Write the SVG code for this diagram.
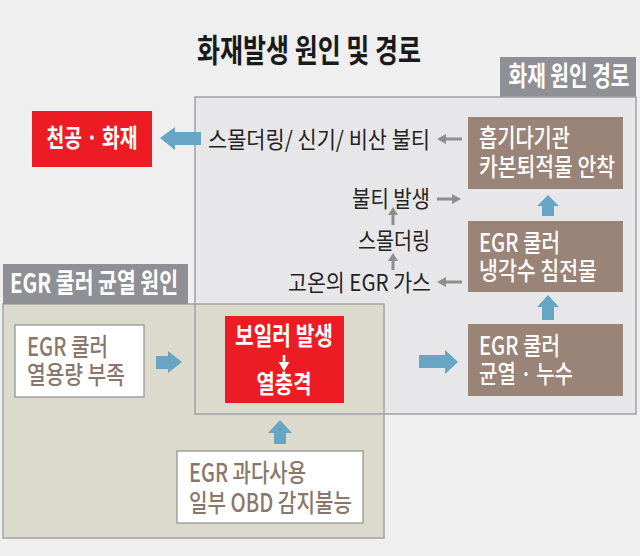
<svg xmlns="http://www.w3.org/2000/svg" width="640" height="556" viewBox="0 0 640 556">
<defs>
<style>
text{font-family:"Noto Sans CJK KR","Noto Sans",sans-serif;}
.title{font-size:32px;font-weight:bold;fill:#1a1a1a;}
.tab{font-size:27px;font-weight:bold;fill:#ffffff;}
.lbl{font-size:23px;fill:#222222;}
.wt{font-size:25px;font-weight:500;fill:#ffffff;}
.wtb{font-size:25px;font-weight:bold;fill:#ffffff;}
.bt{font-size:25px;font-weight:500;fill:#8a776b;}
.red{fill:#ed1c24;}
.brown{fill:#9a8477;}
.white{fill:#ffffff;stroke:#8f8f8f;stroke-width:1.2;}
.blue{fill:#67a5c4;}
.gray{fill:#8e8e8e;}
</style>
</defs>
<rect x="0" y="0" width="640" height="556" fill="#efefef"/>
<text class="title" x="309" y="62" text-anchor="middle" textLength="224" lengthAdjust="spacingAndGlyphs">화재발생 원인 및 경로</text>

<g id="panel-path">
<rect x="195" y="97" width="441" height="317" fill="#e7e7e9"/>
<rect x="500" y="57" width="136" height="40" fill="#8f9095"/>
<text class="tab" x="569" y="86" text-anchor="middle" textLength="121" lengthAdjust="spacingAndGlyphs">화재 원인 경로</text>
</g>
<g id="panel-cause">
<rect x="3" y="304" width="381" height="234" fill="#dcdacc" stroke="#a3a3a3" stroke-width="1.5"/>
<rect x="3" y="264" width="185" height="40" fill="#8f9095"/>
<text class="tab" x="94" y="293" text-anchor="middle" textLength="168" lengthAdjust="spacingAndGlyphs">EGR 쿨러 균열 원인</text>
</g>
<rect x="195" y="97" width="441" height="317" fill="none" stroke="#a0a0a6" stroke-width="1.5"/>

<g id="fire">
<rect class="red" x="32" y="111" width="120" height="56"/>
<text class="wtb" x="92" y="147" text-anchor="middle" textLength="91" lengthAdjust="spacingAndGlyphs">천공 · 화재</text>
</g>
<g id="intake">
<rect class="brown" x="468" y="117" width="155" height="72"/>
<text class="wt" x="479" y="147" textLength="91" lengthAdjust="spacingAndGlyphs">흡기다기관</text>
<text class="wt" x="479" y="176" textLength="136" lengthAdjust="spacingAndGlyphs">카본퇴적물 안착</text>
</g>
<g id="sediment">
<rect class="brown" x="468" y="221" width="155" height="71"/>
<text class="wt" x="479" y="252" textLength="81" lengthAdjust="spacingAndGlyphs">EGR 쿨러</text>
<text class="wt" x="479" y="280" textLength="118" lengthAdjust="spacingAndGlyphs">냉각수 침전물</text>
</g>
<g id="crack">
<rect class="brown" x="468" y="324" width="155" height="72"/>
<text class="wt" x="479" y="355" textLength="81" lengthAdjust="spacingAndGlyphs">EGR 쿨러</text>
<text class="wt" x="479" y="383" textLength="94" lengthAdjust="spacingAndGlyphs">균열 · 누수</text>
</g>
<g id="smolder-all">
<text class="lbl" x="430" y="148" text-anchor="end" textLength="222" lengthAdjust="spacingAndGlyphs">스몰더링/ 신기/ 비산 불티</text>
</g>
<g id="spark">
<text class="lbl" x="430" y="207" text-anchor="end" textLength="78" lengthAdjust="spacingAndGlyphs">불티 발생</text>
</g>
<g id="smolder">
<text class="lbl" x="430" y="249" text-anchor="end" textLength="72" lengthAdjust="spacingAndGlyphs">스몰더링</text>
</g>
<g id="hotgas">
<text class="lbl" x="431" y="291" text-anchor="end" textLength="143" lengthAdjust="spacingAndGlyphs">고온의 EGR 가스</text>
</g>
<g id="capacity">
<rect class="white" x="15" y="325" width="129" height="72"/>
<text class="bt" x="27" y="356" textLength="81" lengthAdjust="spacingAndGlyphs">EGR 쿨러</text>
<text class="bt" x="27" y="384" textLength="98" lengthAdjust="spacingAndGlyphs">열용량 부족</text>
</g>
<g id="boiling">
<rect class="red" x="225" y="316" width="119" height="87"/>
<text class="wtb" x="284" y="345" text-anchor="middle" textLength="98" lengthAdjust="spacingAndGlyphs">보일러 발생</text>
<path d="M284,355 L284,363" stroke="#ffffff" stroke-width="2.6"/>
<path d="M278.5,362 L289.5,362 L284,371 z" fill="#ffffff"/>
<text class="wtb" x="284" y="393" text-anchor="middle" textLength="55" lengthAdjust="spacingAndGlyphs">열충격</text>
</g>
<g id="overuse">
<rect class="white" x="177" y="451" width="186" height="72"/>
<text class="bt" x="189" y="482" textLength="117" lengthAdjust="spacingAndGlyphs">EGR 과다사용</text>
<text class="bt" x="189" y="512" textLength="163" lengthAdjust="spacingAndGlyphs">일부 OBD 감지불능</text>
</g>

<g id="connectors">
<path class="blue" d="M160,138 L175,127 L175,132 L201,132 L201,145 L175,145 L175,150 z"/>
<path class="blue" d="M548,195 L559,206 L554,206 L554,216 L542,216 L542,206 L537,206 z"/>
<path class="blue" d="M548,295 L559,307 L554,307 L554,320 L542,320 L542,307 L537,307 z"/>
<path class="blue" d="M458,362 L445,350 L445,355 L419,355 L419,368 L445,368 L445,374 z"/>
<path class="blue" d="M182,362 L168,351 L168,356 L156,356 L156,369 L168,369 L168,373 z"/>
<path class="blue" d="M280,420 L292,433 L286,433 L286,444 L274,444 L274,433 L268,433 z"/>
<path class="gray" d="M437,139 L446,134 L446,137.5 L462,137.5 L462,140.5 L446,140.5 L446,144 z"/>
<path class="gray" d="M461,199 L452,194 L452,197.5 L437,197.5 L437,200.5 L452,200.5 L452,204 z"/>
<path class="gray" d="M437,282 L446,277 L446,280.5 L462,280.5 L462,283.5 L446,283.5 L446,287 z"/>
<path class="gray" d="M393,207 L398,215 L394.5,215 L394.5,225 L391.5,225 L391.5,215 L388,215 z"/>
<path class="gray" d="M393,253 L398,261 L394.5,261 L394.5,270 L391.5,270 L391.5,261 L388,261 z"/>
</g>
</svg>
